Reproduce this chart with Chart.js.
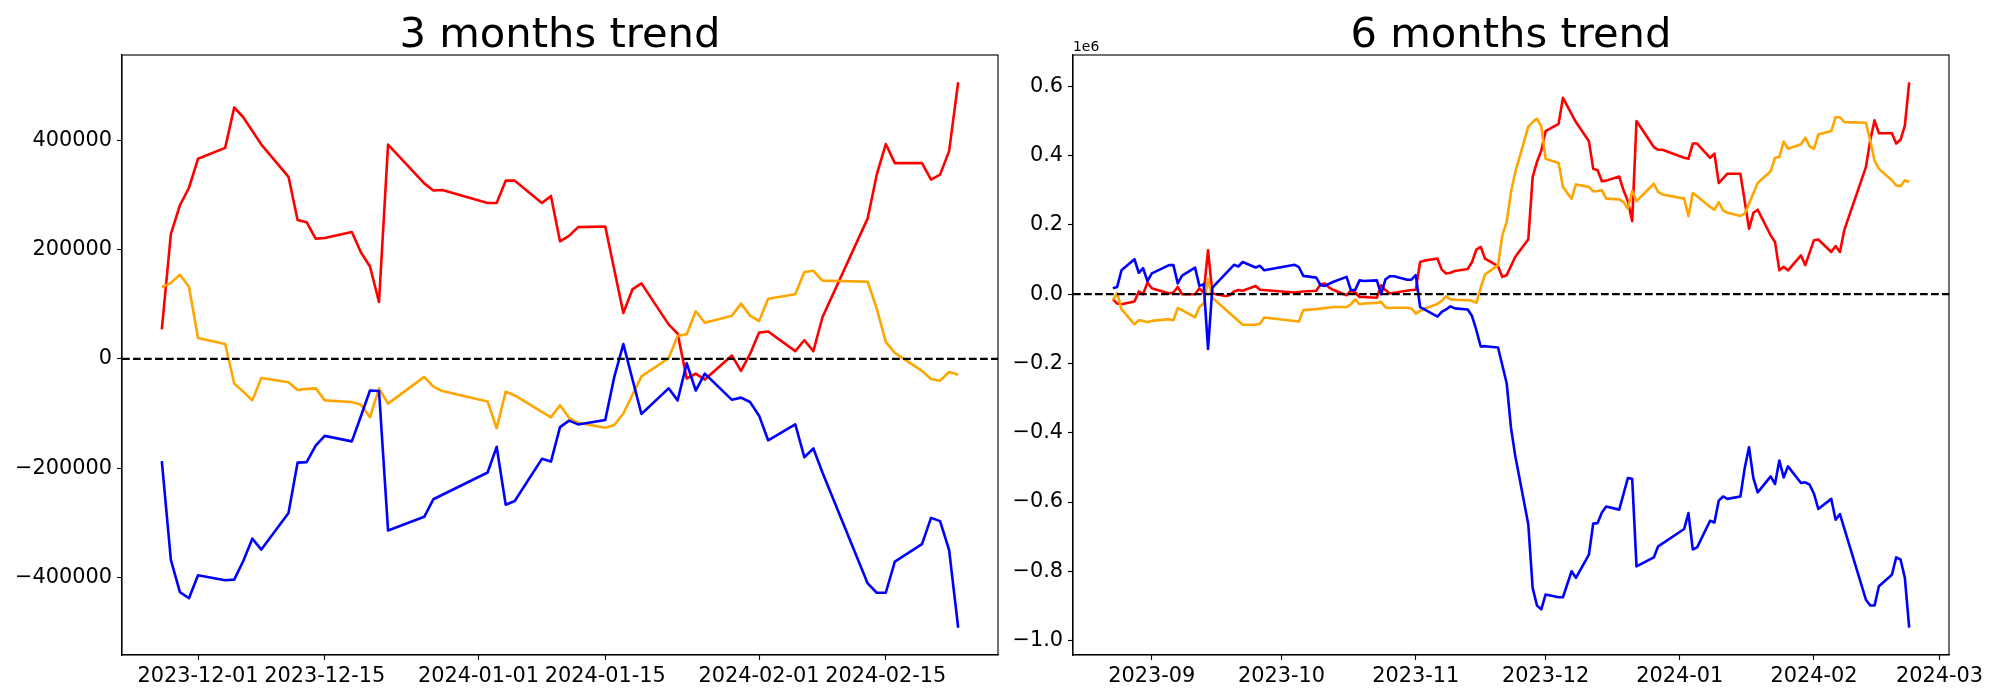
<!DOCTYPE html>
<html>
<head>
<meta charset="utf-8">
<script src="https://cdn.jsdelivr.net/npm/chart.js@4.4.1/dist/chart.umd.min.js"></script>
<style>
html,body{margin:0;padding:0;background:#fff;width:2000px;height:700px;overflow:hidden}
canvas{position:absolute;top:0}
#c3{left:0}
#c6{left:1000px}
</style>
</head>
<body>
<canvas id="c3" width="1000" height="700"></canvas>
<canvas id="c6" width="1000" height="700"></canvas>
<script>
// ---------- titles / colors ----------
const title3m = '3 months trend';
const title6m = '6 months trend';
const seriesColors = ['red', 'orange', 'blue'];
const offsetText6m = '1e6';

// ---------- 3 months chart ----------
const dates3m = ['2023-11-27','2023-11-28','2023-11-29','2023-11-30','2023-12-01','2023-12-04','2023-12-05','2023-12-06','2023-12-07','2023-12-08',
'2023-12-11','2023-12-12','2023-12-13','2023-12-14','2023-12-15','2023-12-18','2023-12-19','2023-12-20','2023-12-21','2023-12-22',
'2023-12-26','2023-12-27','2023-12-28','2024-01-02','2024-01-03','2024-01-04','2024-01-05','2024-01-08','2024-01-09','2024-01-10',
'2024-01-11','2024-01-12','2024-01-15','2024-01-16','2024-01-17','2024-01-18','2024-01-19','2024-01-22','2024-01-23','2024-01-24',
'2024-01-25','2024-01-26','2024-01-29','2024-01-30','2024-01-31','2024-02-01','2024-02-02','2024-02-05','2024-02-06','2024-02-07',
'2024-02-08','2024-02-13','2024-02-14','2024-02-15','2024-02-16','2024-02-19','2024-02-20','2024-02-21','2024-02-22','2024-02-23'];
const red3m = [54000,228000,281000,313000,366000,386000,460000,442000,null,392000,
333000,254000,250000,220000,221000,232000,195000,169000,104000,392000,
321000,308000,309000,285000,285000,326000,326000,285000,298000,215000,
225000,241000,242000,null,84000,127000,138000,63000,46000,-36000,
-27000,-38000,6000,-22000,9000,48000,50000,14000,34000,14000,
76000,257000,337000,393000,358000,358000,328000,337000,380000,506000];
const orange3m = [131000,139000,154000,132000,38000,27000,-45000,-60000,-76000,-35000,
-43000,-57000,-55000,-54000,-76000,-79000,-84000,-107000,-54000,-82000,
-33000,-51000,-59000,-78000,-127000,-60000,-67000,null,-107000,-85000,
-108000,-117000,-126000,-121000,-100000,null,-32000,1000,42000,45000,
87000,66000,79000,101000,79000,69000,110000,118000,159000,161000,
143000,141000,92000,31000,11000,-22000,-37000,-40000,-24000,-29000];
const blue3m = [-187000,-368000,-427000,-438000,-396000,-405000,-404000,-370000,-329000,-349000,
-282000,-190000,-189000,-159000,-141000,-151000,-105000,-58000,-59000,-314000,
-289000,-257000,null,-208000,-161000,-267000,-260000,-183000,-188000,-125000,
-113000,-120000,-112000,-33000,27000,null,-101000,-54000,-76000,-8000,
-58000,-27000,-75000,-71000,-79000,-104000,-149000,-120000,-180000,-164000,
-208000,-411000,-428000,-428000,-371000,-339000,-291000,-297000,-350000,-492000];
const xTickLabels3m = ['2023-12-01','2023-12-15','2024-01-01','2024-01-15','2024-02-01','2024-02-15'];
const yTickValues3m = [-400000,-200000,0,200000,400000];
const yTickLabels3m = ['\u2212400000','\u2212200000','0','200000','400000'];

// ---------- 6 months chart ----------
const dates6m = ['2023-08-23','2023-08-24','2023-08-25','2023-08-28','2023-08-29','2023-08-30','2023-08-31',
'2023-09-01','2023-09-05','2023-09-06','2023-09-07','2023-09-08','2023-09-11','2023-09-12','2023-09-13','2023-09-14','2023-09-15',
'2023-09-18','2023-09-19','2023-09-20','2023-09-21','2023-09-22','2023-09-25','2023-09-26','2023-09-27',
'2023-10-04','2023-10-05','2023-10-06','2023-10-09','2023-10-10','2023-10-11','2023-10-12','2023-10-13','2023-10-16','2023-10-17',
'2023-10-18','2023-10-19','2023-10-20','2023-10-23','2023-10-24','2023-10-25','2023-10-26','2023-10-27','2023-10-30','2023-10-31',
'2023-11-01','2023-11-02','2023-11-03','2023-11-06','2023-11-07','2023-11-08','2023-11-09','2023-11-10','2023-11-13','2023-11-14',
'2023-11-15','2023-11-16','2023-11-17','2023-11-20','2023-11-21','2023-11-22','2023-11-23','2023-11-24','2023-11-27','2023-11-28',
'2023-11-29','2023-11-30',
'2023-12-01','2023-12-04','2023-12-05','2023-12-06','2023-12-07','2023-12-08','2023-12-11','2023-12-12','2023-12-13','2023-12-14',
'2023-12-15','2023-12-18','2023-12-19','2023-12-20','2023-12-21','2023-12-22','2023-12-26','2023-12-27','2023-12-28',
'2024-01-02','2024-01-03','2024-01-04','2024-01-05','2024-01-08','2024-01-09','2024-01-10','2024-01-11','2024-01-12','2024-01-15',
'2024-01-16','2024-01-17','2024-01-18','2024-01-19','2024-01-22','2024-01-23','2024-01-24','2024-01-25','2024-01-26','2024-01-29',
'2024-01-30','2024-01-31',
'2024-02-01','2024-02-02','2024-02-05','2024-02-06','2024-02-07','2024-02-08','2024-02-13','2024-02-14','2024-02-15','2024-02-16',
'2024-02-19','2024-02-20','2024-02-21','2024-02-22','2024-02-23'];
const red6m = [-14000,-27000,-29000,-21000,8000,0,34000,
17000,2000,5000,21000,0,0,17000,4000,127000,2000,
-5000,-3000,8000,12000,10000,24000,13000,null,
5000,null,8000,10000,29000,31000,19000,12000,-3000,10000,
5000,-8000,-8000,-10000,26000,12000,2000,null,null,12000,
13000,93000,97000,103000,71000,60000,62000,67000,73000,93000,
129000,137000,103000,81000,50000,55000,null,108000,159000,338000,
382000,415000,
471000,492000,567000,null,null,497000,442000,362000,358000,326000,
328000,340000,300000,269000,211000,500000,425000,417000,417000,
394000,391000,435000,435000,394000,406000,321000,null,348000,348000,
null,189000,235000,244000,170000,151000,69000,79000,69000,112000,
84000,null,
156000,158000,122000,139000,122000,185000,367000,444000,502000,465000,
465000,435000,446000,487000,612000];
const orange6m = [-17000,3000,-43000,-87000,-75000,-77000,-81000,
-77000,-72000,-75000,-40000,-46000,-67000,-37000,-27000,43000,-10000,
null,null,null,null,-88000,-88000,-85000,-67000,
null,-79000,-46000,-43000,null,null,null,-37000,-37000,-29000,
-15000,-29000,-27000,-25000,-22000,-38000,-40000,-39000,-39000,-41000,
-56000,-48000,-42000,-28000,-19000,-6000,-15000,-16000,-17000,-19000,
-25000,19000,57000,84000,170000,209000,295000,353000,484000,497000,
507000,484000,
391000,379000,310000,292000,276000,317000,310000,297000,298000,300000,
276000,274000,266000,247000,298000,269000,319000,295000,288000,
276000,225000,292000,283000,252000,244000,266000,242000,235000,226000,
233000,261000,null,321000,355000,394000,396000,441000,420000,433000,
452000,427000,
420000,461000,471000,511000,511000,497000,495000,444000,386000,362000,
329000,314000,312000,329000,324000];
const blue6m = [17000,21000,69000,101000,62000,75000,38000,
60000,84000,84000,31000,54000,77000,24000,29000,-158000,19000,
null,null,85000,80000,93000,77000,82000,69000,
85000,78000,53000,48000,26000,24000,null,36000,50000,12000,
12000,40000,38000,40000,0,43000,52000,52000,42000,42000,
55000,-37000,-44000,-65000,-51000,-44000,-35000,-41000,-44000,-63000,
-104000,-151000,-150000,-154000,null,-257000,-386000,-468000,-665000,-848000,
-899000,-910000,
-867000,-875000,-875000,null,-800000,-819000,-752000,-662000,-661000,-630000,
-613000,-622000,null,-531000,-533000,-786000,-760000,-728000,null,
-678000,-632000,-737000,-731000,-654000,-659000,-596000,-584000,-591000,-584000,
-502000,-442000,-531000,-572000,-526000,-548000,-480000,-529000,-497000,-545000,
-543000,-550000,
-576000,-620000,-591000,-651000,-635000,null,-882000,-899000,-899000,-843000,
-810000,-760000,-766000,-819000,-963000];
const xTickLabels6m = ['2023-09','2023-10','2023-11','2023-12','2024-01','2024-02','2024-03'];
const yTickValues6m = [-1000000,-800000,-600000,-400000,-200000,0,200000,400000,600000];
const yTickLabels6m = ['\u22121.0','\u22120.8','\u22120.6','\u22120.4','\u22120.2','0.0','0.2','0.4','0.6'];

// ---------- helpers ----------
function dayNum(s) {
  const p = s.split('-').map(Number);
  return Date.UTC(p[0], p[1] - 1, p[2] || 1) / 86400000;
}
const FONT = 'DejaVu Sans';

const decorPlugin = {
  id: 'decor',
  afterDatasetsDraw(chart) {
    const {ctx, chartArea: a, scales: {y}} = chart;
    const yz = y.getPixelForValue(0);
    ctx.save();
    ctx.beginPath();
    ctx.rect(a.left, a.top, a.right - a.left, a.bottom - a.top);
    ctx.clip();
    ctx.strokeStyle = '#000';
    ctx.lineWidth = 2.2;
    ctx.setLineDash([7.7, 3.3]);
    ctx.beginPath();
    ctx.moveTo(a.left, yz);
    ctx.lineTo(a.right, yz);
    ctx.stroke();
    ctx.restore();
  },
  afterDraw(chart) {
    const {ctx, chartArea: a} = chart;
    const o = chart.options.plugins.decor;
    ctx.save();
    ctx.strokeStyle = '#000';
    ctx.lineWidth = 1.11;
    ctx.strokeRect(a.left, a.top, a.right - a.left, a.bottom - a.top);
    ctx.fillStyle = '#000';
    ctx.font = '41.67px "' + FONT + '"';
    ctx.textAlign = 'center';
    ctx.textBaseline = 'alphabetic';
    ctx.fillText(o.title, (a.left + a.right) / 2, a.top - 8.3);
    if (o.offsetText) {
      ctx.font = '13.9px "' + FONT + '"';
      ctx.textAlign = 'left';
      ctx.fillText(o.offsetText, a.left, a.top - 4.5);
    }
    ctx.restore();
  }
};

function makeChart(id, dates, seriesList, xTickLabels, yTickValues, yTickLabels, title, offsetText, yWidth, padRight) {
  const xs = dates.map(dayNum);
  const xmin0 = Math.min(...xs), xmax0 = Math.max(...xs);
  const xm = (xmax0 - xmin0) * 0.05;
  const all = [].concat(...seriesList).filter(v => v !== null);
  const ymin0 = Math.min(...all), ymax0 = Math.max(...all);
  const ym = (ymax0 - ymin0) * 0.05;
  const xTickVals = xTickLabels.map(dayNum);
  const xLabelMap = {};
  xTickVals.forEach((v, i) => { xLabelMap[v] = xTickLabels[i]; });
  const yLabelMap = {};
  yTickValues.forEach((v, i) => { yLabelMap[v] = yTickLabels[i]; });
  const orders = [2, 1, 0];
  const datasets = seriesList.map((vals, i) => ({
    data: xs.map((x, j) => ({x: x, y: vals[j]})),
    borderColor: seriesColors[i],
    backgroundColor: seriesColors[i],
    borderWidth: 2.6,
    pointRadius: 0,
    pointHoverRadius: 0,
    tension: 0,
    spanGaps: true,
    fill: false,
    borderJoinStyle: 'round',
    borderCapStyle: 'butt',
    order: orders[i]
  }));
  const tickFont = {family: FONT, size: 20.83};
  return new Chart(document.getElementById(id), {
    type: 'line',
    data: {datasets},
    plugins: [decorPlugin],
    options: {
      responsive: false,
      animation: false,
      devicePixelRatio: 1,
      layout: {padding: {top: 55, left: 0, right: padRight, bottom: 0}, autoPadding: false},
      plugins: {legend: {display: false}, tooltip: {enabled: false}, title: {display: false},
        decor: {title: title, offsetText: offsetText}},
      scales: {
        x: {
          type: 'linear', min: xmin0 - xm, max: xmax0 + xm, bounds: 'data',
          afterBuildTicks: sc => { sc.ticks = xTickVals.map(v => ({value: v})); },
          afterFit: sc => { sc.height = 45; },
          ticks: {autoSkip: false, maxRotation: 0, minRotation: 0, padding: 4, color: '#000', font: tickFont,
            callback: v => xLabelMap[v]},
          grid: {drawOnChartArea: false, drawTicks: true, tickLength: 5, tickWidth: 1.11, tickColor: '#000'},
          border: {display: true, color: '#000', width: 1.11}
        },
        y: {
          type: 'linear', min: ymin0 - ym, max: ymax0 + ym, bounds: 'data',
          afterBuildTicks: sc => { sc.ticks = yTickValues.map(v => ({value: v})); },
          afterFit: sc => { sc.width = yWidth; },
          ticks: {autoSkip: false, padding: 5, color: '#000', font: tickFont,
            callback: v => yLabelMap[v]},
          grid: {drawOnChartArea: false, drawTicks: true, tickLength: 5, tickWidth: 1.11, tickColor: '#000'},
          border: {display: true, color: '#000', width: 1.11}
        }
      }
    }
  });
}

makeChart('c3', dates3m, [red3m, orange3m, blue3m], xTickLabels3m, yTickValues3m, yTickLabels3m, title3m, null, 122, 2);
makeChart('c6', dates6m, [red6m, orange6m, blue6m], xTickLabels6m, yTickValues6m, yTickLabels6m, title6m, offsetText6m, 73, 51);
</script>
</body>
</html>
